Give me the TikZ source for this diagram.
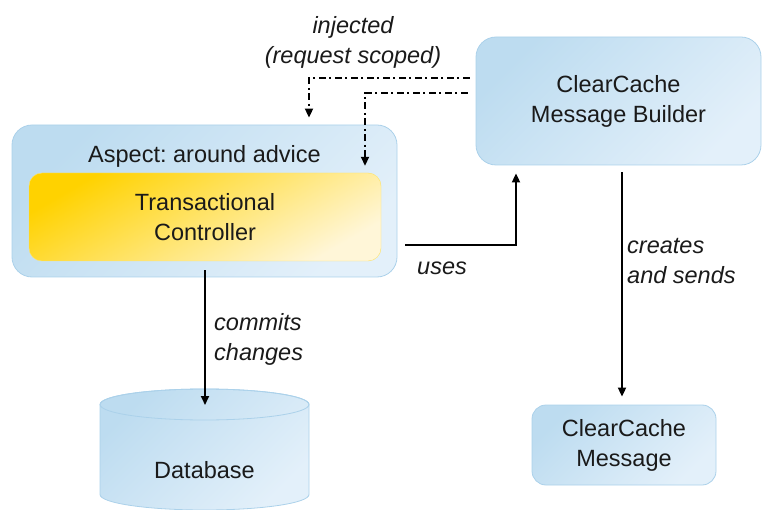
\documentclass[tikz,border=0pt]{standalone}
\usepackage{fontspec}
\setmainfont{Liberation Sans}
\usetikzlibrary{positioning,arrows.meta}
\definecolor{boxline}{HTML}{ABD1EA}
\definecolor{boxtop}{HTML}{BDDCF0}
\definecolor{boxbot}{HTML}{E3F0FA}
\definecolor{goldtop}{HTML}{FFD200}
\definecolor{goldbot}{HTML}{FFF6D8}
\definecolor{inktext}{HTML}{1A1A1A}

\begin{document}
\begin{tikzpicture}[x=1pt, y=-1pt,
    font=\fontsize{23.5}{30}\selectfont, text=inktext,
    bluefill/.style={top color=boxtop, bottom color=boxbot, shading angle=45},
    bluebox/.style={bluefill, draw=boxline, thick, rounded corners=20pt, align=center, inner sep=0pt},
    goldbox/.style={draw=goldtop!60, thin, rounded corners=13pt, top color=goldtop, bottom color=goldbot, shading angle=30, align=center, inner sep=0pt},
    flow/.style={-{Triangle[length=9pt, width=8pt]}, line width=1.8pt, draw=black},
    inject/.style={flow, dash pattern=on 7pt off 3.5pt on 2pt off 3.5pt},
    note/.style={font=\fontsize{23.5}{30}\selectfont\itshape, inner sep=0pt}
    ]
        \useasboundingbox (0,0) rectangle (762,510);

        %Database drum
        \shade[bluefill, draw=boxline, thick]
            (100,404.5) -- (100,494.5)
            arc[start angle=180, end angle=0, x radius=104.5, y radius=15.5]
            -- (309,404.5)
            arc[start angle=0, end angle=-180, x radius=104.5, y radius=15.5] -- cycle;
        \draw[boxline, thick] (204.5,404.5) ellipse[x radius=104.5, y radius=15.5];

        %Nodes
        \node[bluebox, minimum width=385pt, minimum height=152pt,
              label={[anchor=north, yshift=-17pt]north:{Aspect:\ around advice}}]
            (aspect)  at (204.5,201)  {};
        \node[goldbox, minimum width=352pt, minimum height=88pt]
            (txctl)   at (205,217)    {Transactional\\Controller};
        \node[bluebox, minimum width=285pt, minimum height=128pt]
            (builder) at (618.5,101)  {ClearCache\\Message Builder};
        \node[bluebox, rounded corners=14pt, minimum width=184pt, minimum height=80pt]
            (msg)     at (624,445)    {ClearCache\\Message};
        \node (db) at (204.5,470) {Database};
        \coordinate (dbtop) at (205,405);

        %Labels
        \node[note, align=center] (injlbl) at (353,42) {injected\\(request scoped)};
        \node[note] (useslbl) at (442,268) {uses};
        \node[note, align=left, anchor=west] (commitlbl) at (214,339) {commits\\changes};
        \node[note, align=left, anchor=west] (createlbl) at (627,261) {creates\\and sends};

        %Lines
        \draw[inject, shorten <=6pt, shorten >=7pt]
            ([yshift=23pt]builder.west) -| ([xshift=104.5pt]aspect.north);
        \draw[inject, shorten <=8pt, shorten >=7pt]
            ([yshift=8pt]builder.west) -| ([xshift=160pt]txctl.north);
        \draw[flow, shorten <=8pt, shorten >=8pt]
            ([yshift=-44pt]aspect.east) -| ([xshift=-102.5pt]builder.south);
        \draw[flow, shorten <=-7pt]
            ([xshift=0.5pt]aspect.south) -- (dbtop);
        \draw[flow, shorten <=7pt, shorten >=8pt]
            ([xshift=3.5pt]builder.south) -- ([xshift=-2pt]msg.north);
\end{tikzpicture}
\end{document}
